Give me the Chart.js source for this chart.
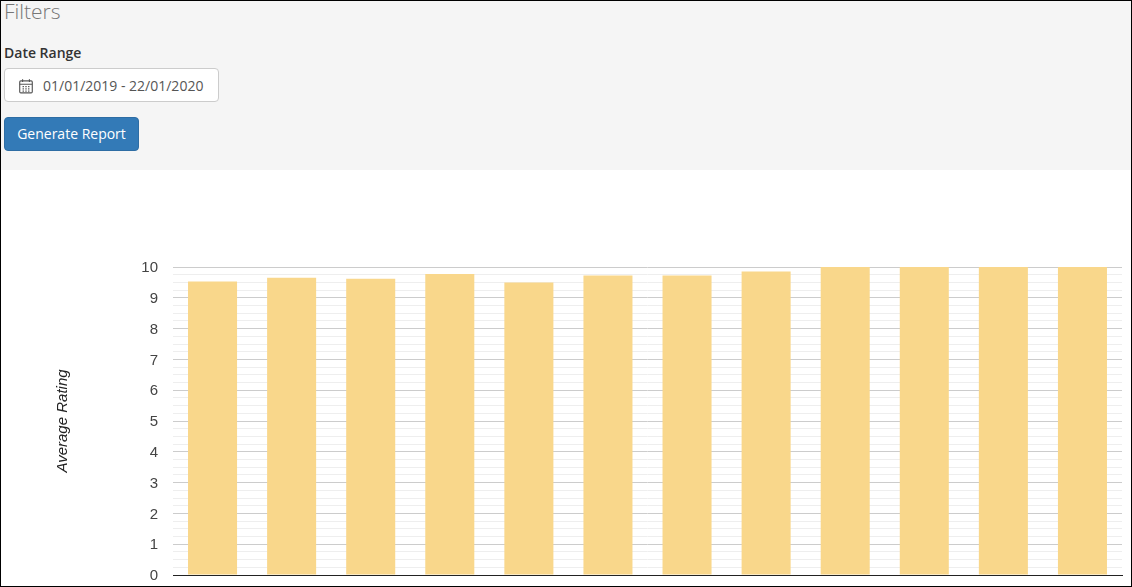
<!DOCTYPE html>
<html>
<head>
<meta charset="utf-8">
<script src="https://cdn.jsdelivr.net/npm/chart.js@4"></script>
<style>
  html, body { margin: 0; padding: 0; background: #fff; overflow: hidden; }
  #page { position: relative; width: 1132px; height: 587px; box-sizing: border-box; border: 1px solid #000; overflow: hidden; font-family: "Open Sans", sans-serif; }
  #filters { position: absolute; left: 0; top: 0; width: 1130px; height: 169px; background: #f5f5f5; }
  #filters h3 { position: absolute; left: 3px; top: -3px; margin: 0; font-size: 21px; font-weight: 300; line-height: 26px; color: #777; }
  #filters label { position: absolute; left: 3px; top: 43px; font-size: 14px; font-weight: 600; line-height: 18px; color: #333; }
  #range { position: absolute; left: 3px; top: 67px; width: 215px; height: 34px; box-sizing: border-box; background: #fff; border: 1px solid #ccc; border-radius: 4px; font-size: 14px; line-height: 33px; color: #555; padding-left: 38px; white-space: nowrap; }
  #range svg { position: absolute; left: 13px; top: 9px; }
  #go { position: absolute; left: 3px; top: 116px; width: 135px; height: 34px; box-sizing: border-box; background: #337ab7; border: 1px solid #2e6da4; border-radius: 4px; color: #fff; font: 14px/30px "Open Sans", sans-serif; padding: 0 0 1px; }
  #chart-box { position: absolute; left: -1px; top: 169px; width: 1132px; height: 429px; }
</style>
</head>
<body>
<div id="page">
  <div id="filters">
    <h3>Filters</h3>
    <label>Date Range</label>
    <div id="range">
      <svg width="16" height="16" viewBox="0 0 14 14" fill="none" stroke="#555" stroke-width="1">
        <rect x="1.5" y="2.5" width="11" height="10.5" rx="1"/>
        <path d="M1.5 5.5h11M4 1v2.5M10 1v2.5"/>
        <path d="M4 7.5h6M4 9.5h6M4 11.5h6" stroke-dasharray="1.2 1.2"/>
      </svg>
      01/01/2019 - 22/01/2020
    </div>
    <button id="go">Generate Report</button>
  </div>
  <div id="chart-box"><canvas id="main-chart"></canvas></div>
</div>
<script>
const categories = ['1', '2', '3', '4', '5', '6', '7', '8', '9', '10', '11', '12'];
const ratings = [9.53, 9.65, 9.62, 9.77, 9.5, 9.72, 9.72, 9.85, 10, 10, 10, 10];
const axisFont = 'Liberation Sans, Arial, sans-serif';

new Chart(document.getElementById('main-chart'), {
  type: 'bar',
  data: {
    labels: categories,
    datasets: [{
      label: 'Average Rating',
      data: ratings,
      backgroundColor: '#f9d78b',
      borderWidth: 0,
      barPercentage: 0.62,
      categoryPercentage: 1
    }]
  },
  options: {
    responsive: true, maintainAspectRatio: false,
    animation: false,
    layout: { padding: { right: 10, top: 97, bottom: 0 } },
    plugins: { legend: { display: false }, tooltip: { enabled: false } },
    scales: {
      x: {
        grid: { display: false, drawTicks: false },
        border: { color: '#222', width: 1 },
        ticks: { display: false }
      },
      y: {
        min: 0, max: 10,
        afterFit: s => { s.width = 173; },
        title: { display: true, text: 'Average Rating', color: '#222', padding: { top: 54, bottom: 0 },
          font: { family: axisFont, size: 15, style: 'italic' } },
        grid: {
          drawTicks: false,
          color: c => Number.isInteger(c.tick.value) ? '#cccccc' : '#eeeeee'
        },
        border: { display: false },
        ticks: {
          stepSize: 0.25, autoSkip: false, padding: 15, color: '#444', labelOffset: 1,
          font: { family: axisFont, size: 15 },
          callback: v => Number.isInteger(v) ? v : ''
        }
      }
    }
  }
});
</script>
</body>
</html>
